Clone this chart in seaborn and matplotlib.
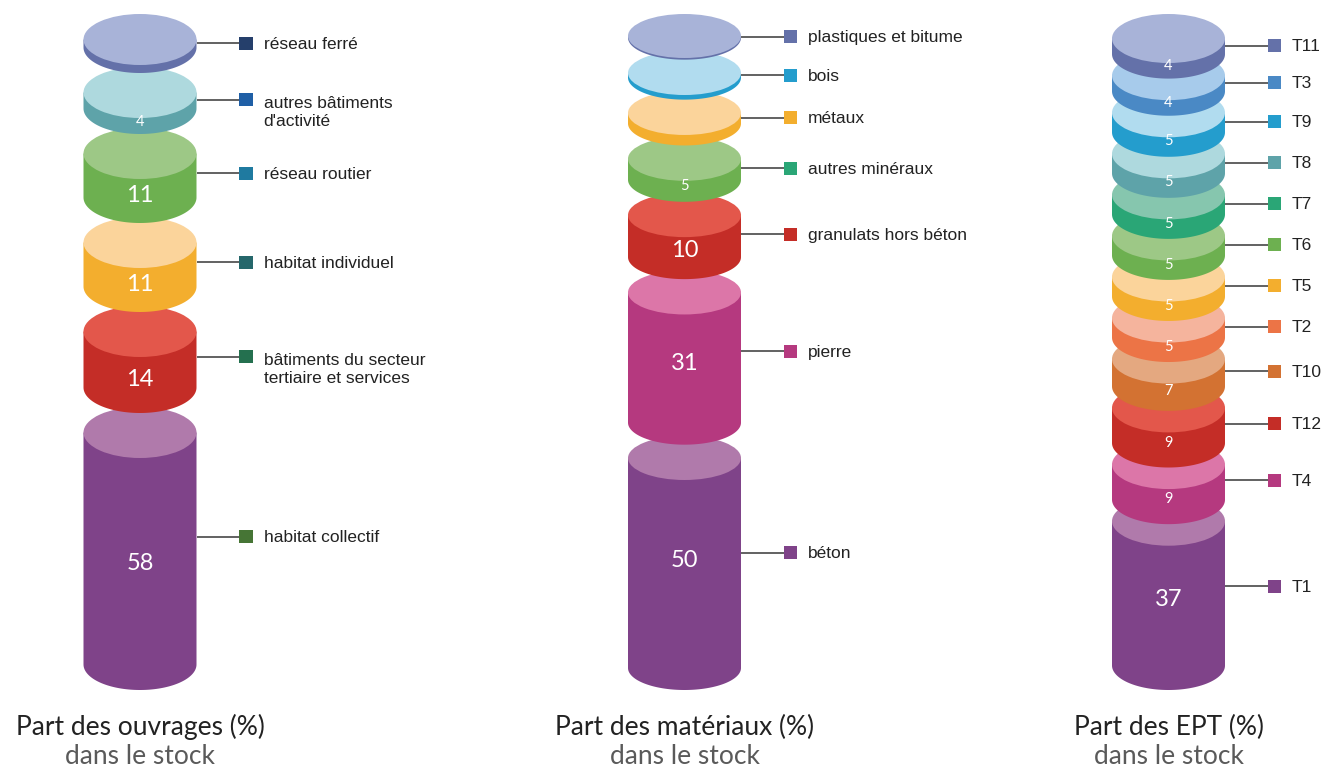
import numpy as np
import matplotlib
matplotlib.use("Agg")
import matplotlib.pyplot as plt
import seaborn as sns
from matplotlib.patches import Ellipse, Polygon

# ---------------- data (listed bottom -> top) ----------------
ouvrages_labels = ["habitat collectif", "bâtiments du secteur\ntertiaire et services",
                   "habitat individuel", "réseau routier",
                   "autres bâtiments\nd'activité", "réseau ferré"]
ouvrages_values = [58, 14, 11, 11, 4, 2]

materiaux_labels = ["béton", "pierre", "granulats hors béton", "autres minéraux",
                    "métaux", "bois", "plastiques et bitume"]
materiaux_values = [50, 31, 10, 5, 2.5, 1.1, 0.4]

ept_labels = ["T1", "T4", "T12", "T10", "T2", "T5", "T6", "T7", "T8", "T9", "T3", "T11"]
ept_values = [37, 9, 9, 7, 5, 5, 5, 5, 5, 5, 4, 4]

titles = ["Part des ouvrages (%)", "Part des matériaux (%)", "Part des EPT (%)"]
subtitle = "dans le stock"

# colour pairs: (side, top)
PURPLE = ("#7f4389", "#b07aab")
MAGENTA = ("#b5397f", "#dc76a8")
RED = ("#c42d27", "#e3574b")
DORANGE = ("#d37232", "#e4a880")
SALMON = ("#ec7446", "#f5b49d")
ORANGE = ("#f3ae2e", "#fbd49b")
GREEN = ("#6db050", "#9dc886")
GTEAL = ("#2aa676", "#86c6ae")
TEAL = ("#5ea3a9", "#aed9de")
SKY = ("#249dcd", "#b1dcef")
LBLUE = ("#4a89c5", "#a7cbeb")
LAV = ("#6471a9", "#a8b3d8")

ouvrages_colors = [PURPLE, RED, ORANGE, GREEN, TEAL, LAV]
ouvrages_legend = ["#467535", "#24704f", "#25676b", "#1f7aa0", "#1f5fa6", "#253f6b"]

materiaux_colors = [PURPLE, MAGENTA, RED, GREEN, ORANGE, SKY, LAV]
materiaux_legend = ["#7f4389", "#b5397f", "#c42d27", "#2aa676", "#f3ae2e", "#249dcd", "#6471a9"]

ept_colors = [PURPLE, MAGENTA, RED, DORANGE, SALMON, ORANGE, GREEN, GTEAL, TEAL, SKY, LBLUE, LAV]
ept_legend = [c[0] for c in ept_colors]

# ---------------- style ----------------
sns.set_theme(style="white")
plt.rcParams["font.family"] = ["Liberation Sans", "DejaVu Sans"]

W, H = 1330, 768
fig = plt.figure(figsize=(W / 100, H / 100), dpi=100)
ax = fig.add_axes([0, 0, 1, 1])

TOP, BOTTOM = 14, 690
A = 56.5  # half width of cylinders
LINE_STEP = 20.5  # pixel distance between lines of a wrapped legend label


def draw_column(cx, values, labels, colors, legend_colors, k, b, title, lab_shift):
    n = len(values)
    gap = ((BOTTOM - TOP) - 2 * b - k * sum(values)) / (n - 1)
    yb = BOTTOM - b
    t = np.linspace(np.pi, 0, 80)
    ly_list = []
    for i, (v, lab, (side, top)) in enumerate(zip(values, labels, colors)):
        h = v * k
        yt = yb - h
        z = 2 + i * 2
        pts = [(cx - A, yt), (cx - A, yb)]
        pts += list(zip(cx + A * np.cos(t), yb + b * np.sin(t)))
        pts += [(cx + A, yt)]
        ax.add_patch(Polygon(pts, closed=True, facecolor=side, edgecolor="none", zorder=z))
        ax.add_patch(Ellipse((cx, yt), 2 * A, 2 * b, facecolor=top, edgecolor="none", zorder=z + 1))
        if v >= 4:
            fs = 17 if v >= 10 else 10.5
            ax.text(cx, (yt + yb) / 2 + 0.85 * b - lab_shift * h, f"{v:g}", ha="center",
                    va="center", color="white", fontsize=fs,
                    family=["Lato", "DejaVu Sans"], zorder=z + 1.5)
        ly = (yt + yb) / 2 - 0.05 * h
        ly_list.append(ly)
        ax.plot([cx + A, cx + A + 43], [ly, ly], color="#555555", lw=1.3, zorder=1,
                solid_capstyle="butt")
        nlines = lab.count("\n") + 1
        ax.text(cx + A + 67, ly + 5.5 + (nlines - 1) * LINE_STEP, lab, ha="left",
                va="baseline", fontsize=12.5, color="#222222", linespacing=1.2, zorder=50)
        yb = yt - gap
    sns.scatterplot(x=[cx + A + 49.5] * n, y=ly_list, hue=labels,
                    palette=dict(zip(labels, legend_colors)), marker="s", s=88,
                    linewidth=0, legend=False, ax=ax, zorder=40)
    ax.text(cx, 727, title, ha="center", va="center", fontsize=19,
            family=["Lato", "DejaVu Sans"], color="#222222")
    ax.text(cx, 756, subtitle, ha="center", va="center", fontsize=19,
            family=["Lato", "DejaVu Sans"], color="#5a5a5a")


draw_column(140, ouvrages_values, ouvrages_labels, ouvrages_colors, ouvrages_legend,
            k=4.0, b=25.5, title=titles[0], lab_shift=0.03)
draw_column(684.5, materiaux_values, materiaux_labels, materiaux_colors, materiaux_legend,
            k=4.2, b=22, title=titles[1], lab_shift=0.1)
draw_column(1168.5, ept_values, ept_labels, ept_colors, ept_legend,
            k=3.9, b=24.5, title=titles[2], lab_shift=0.1)

ax.set_xlim(0, W)
ax.set_ylim(H, 0)
ax.axis("off")
fig.savefig("out.png", dpi=100, facecolor="white")
